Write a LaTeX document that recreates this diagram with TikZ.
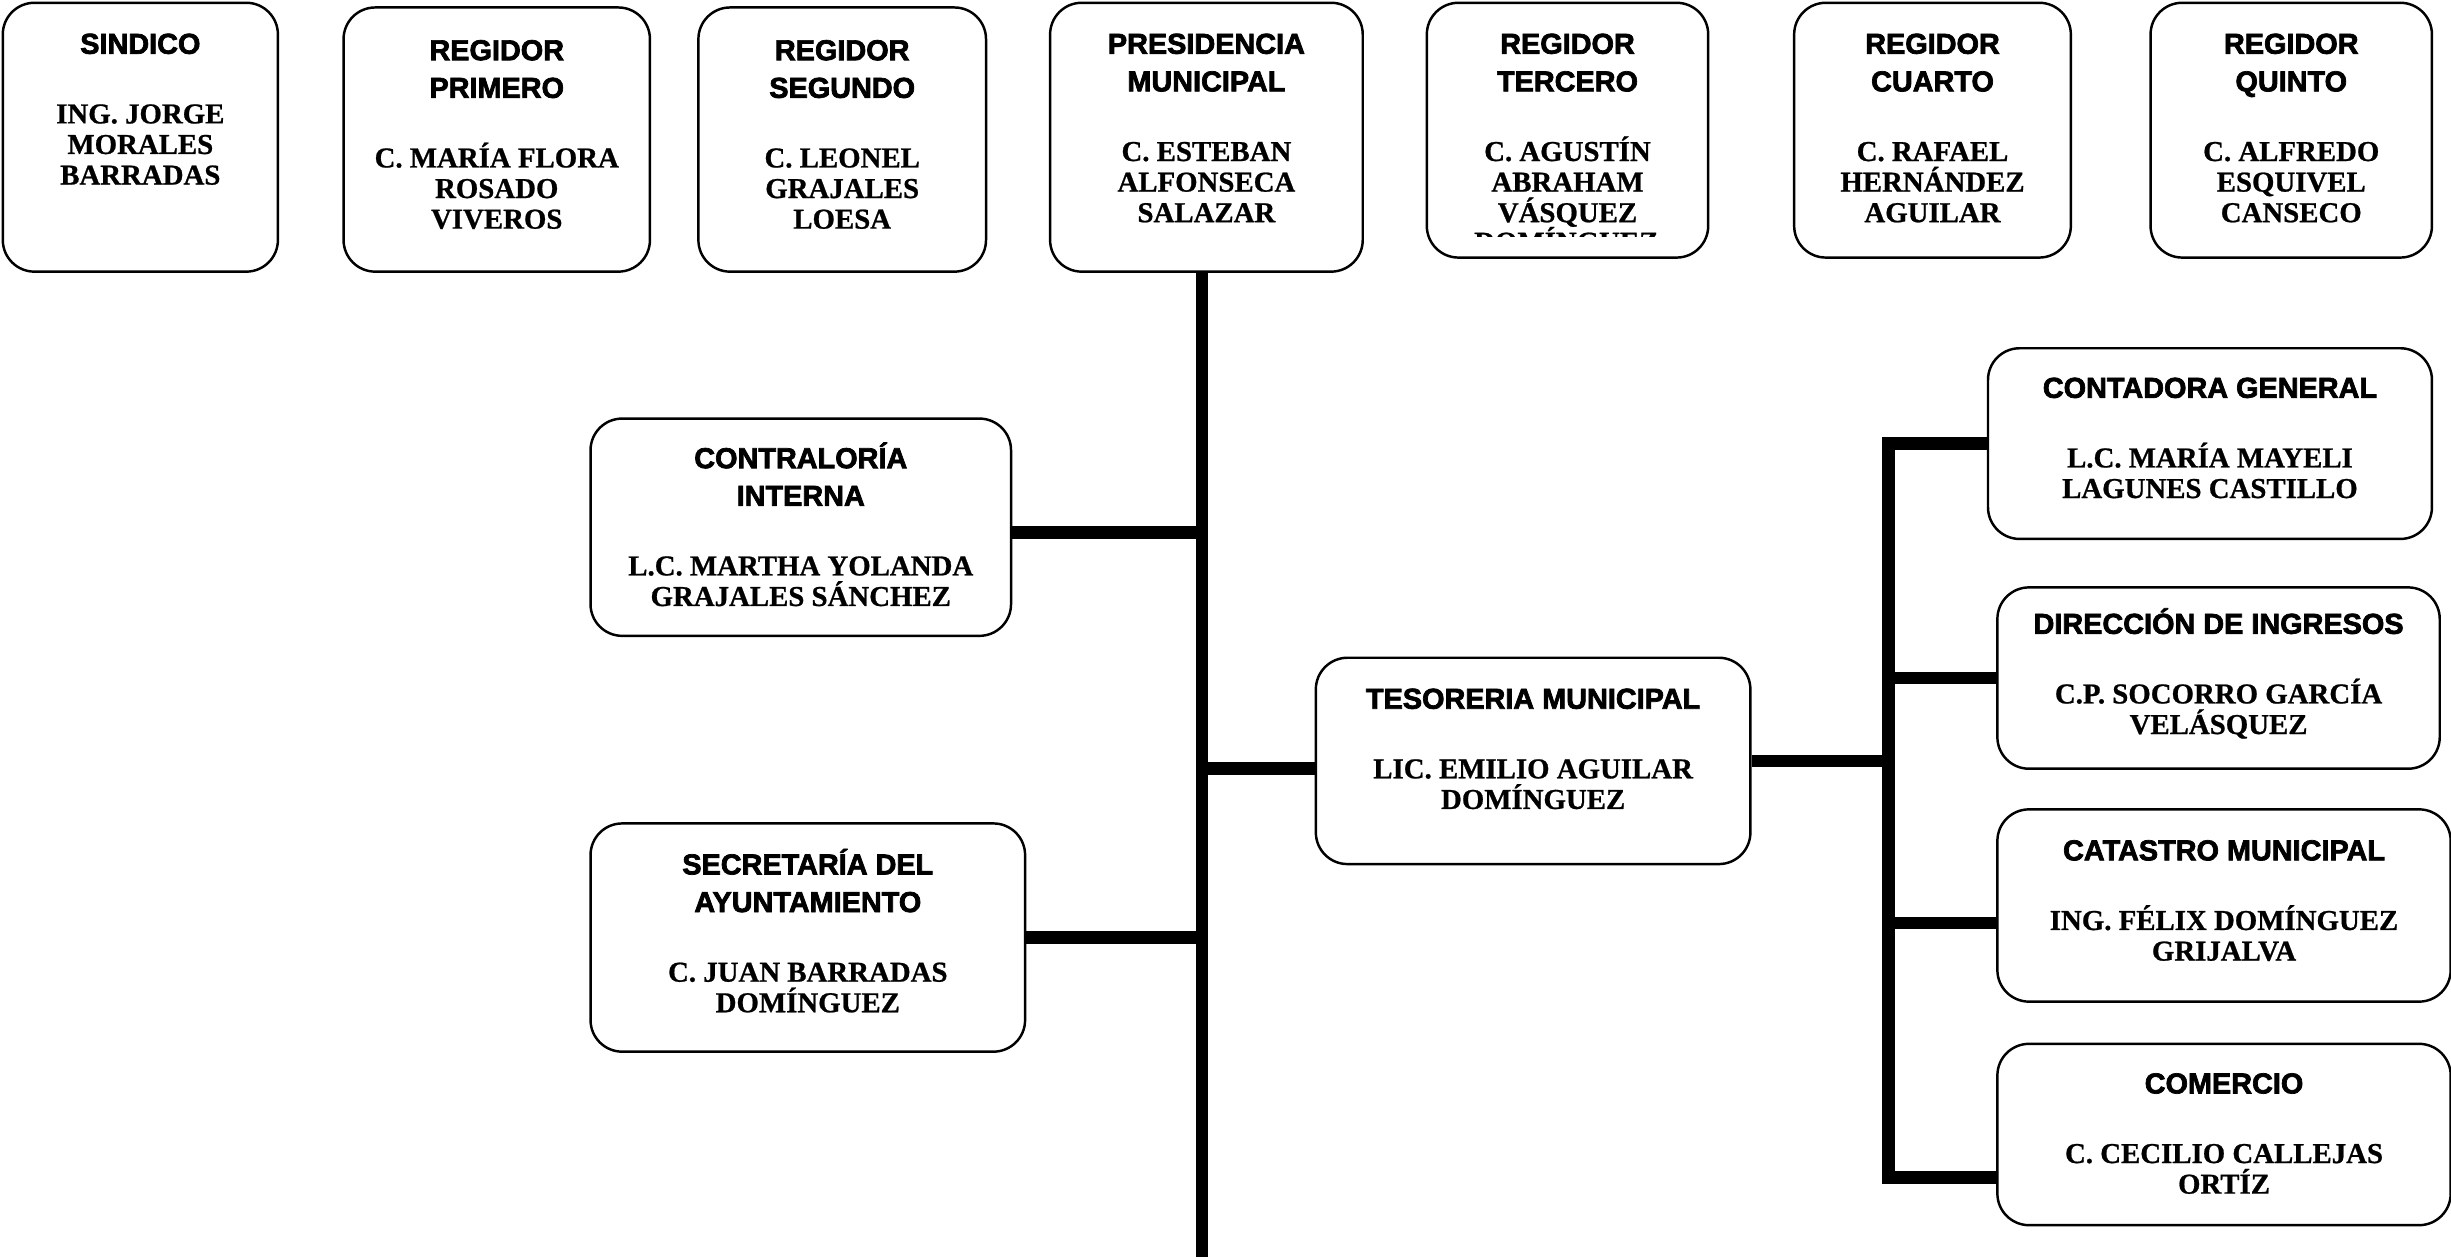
\documentclass[tikz,border=0pt]{standalone}
\usepackage{fontspec}
\setmainfont{Liberation Serif}[BoldFeatures={FakeBold=0.8}]
\setsansfont{Liberation Sans}[BoldFeatures={FakeBold=2.5}]

\newlength{\pxu}
\setlength{\pxu}{0.015632cm}
\newcommand{\titulofont}{\sffamily\bfseries\fontsize{8.2}{10.7}\selectfont}
\newcommand{\nombrefont}{\rmfamily\bfseries\fontsize{8.2}{8.7}\selectfont}
% ancho, alto, primera linea, cargo, nombre
\newcommand{\puesto}[5]{\parbox[c][#2\pxu][t]{#1\pxu}{\centering
  {\titulofont\rule{0pt}{#3}#4\par}\vspace{11.1pt}{\nombrefont #5\par}}}

\begin{document}
\begin{tikzpicture}[x=0.015632cm,y=-0.015632cm]
  \tikzstyle{cargo}=[draw,rounded corners=9pt,line width=0.7pt,inner sep=0pt,anchor=north west]
  \tikzstyle{linea}=[line width=3.6pt]
  \useasboundingbox (0,0) rectangle (1568,804);
  % cabildo
  \node[cargo] (sind) at (1,1) {\puesto{176}{172}{14.5pt}{SINDICO}{ING. JORGE\\MORALES\\BARRADAS}};
  \node[cargo] (reg1) at (219,4) {\puesto{196}{169}{15pt}{REGIDOR\\PRIMERO}{C. MARÍA FLORA\\ROSADO\\VIVEROS}};
  \node[cargo] (reg2) at (446,4) {\puesto{184}{169}{15pt}{REGIDOR\\SEGUNDO}{C. LEONEL\\GRAJALES\\LOESA}};
  \node[cargo] (pres) at (671,1) {\puesto{200}{172}{14.5pt}{PRESIDENCIA\\MUNICIPAL}{C. ESTEBAN\\ALFONSECA\\SALAZAR}};
  \node[cargo] (reg3) at (912,1) {\puesto{180}{163}{14.5pt}{REGIDOR\\TERCERO}{C. AGUSTÍN\\ABRAHAM\\VÁSQUEZ}};
  \node[cargo] (reg4) at (1147,1) {\puesto{177}{163}{14.5pt}{REGIDOR\\CUARTO}{C. RAFAEL\\HERNÁNDEZ\\AGUILAR}};
  \node[cargo] (reg5) at (1375,1) {\puesto{180}{163}{14.5pt}{REGIDOR\\QUINTO}{C. ALFREDO\\ESQUIVEL\\CANSECO}};
  \begin{scope}
    \clip (912,140) rectangle (1092,151.5);
    \node[anchor=base,font=\nombrefont] (reg3b) at (1002,161) {DOMÍNGUEZ};
  \end{scope}
  % dependencias
  \node[cargo] (contra) at (377,267) {\puesto{269}{139}{14.1pt}{CONTRALORÍA\\INTERNA}{L.C. MARTHA YOLANDA\\GRAJALES SÁNCHEZ}};
  \node[cargo] (secre) at (377,526) {\puesto{278}{146}{14.5pt}{SECRETARÍA DEL\\AYUNTAMIENTO}{C. JUAN BARRADAS\\DOMÍNGUEZ}};
  \node[cargo] (teso) at (841,420) {\puesto{278}{132}{14.5pt}{TESORERIA MUNICIPAL}{LIC. EMILIO AGUILAR\\DOMÍNGUEZ}};
  \node[cargo] (conta) at (1271,222) {\puesto{284}{122}{14.1pt}{CONTADORA GENERAL}{L.C. MARÍA MAYELI\\LAGUNES CASTILLO}};
  \node[cargo] (ingre) at (1277,375) {\puesto{283}{116}{13.2pt}{DIRECCIÓN DE INGRESOS}{C.P. SOCORRO GARCÍA\\VELÁSQUEZ}};
  \node[cargo] (catas) at (1277,517) {\puesto{290}{123}{14.5pt}{CATASTRO MUNICIPAL}{ING. FÉLIX DOMÍNGUEZ\\GRIJALVA}};
  \node[cargo] (comer) at (1277,667) {\puesto{290}{116}{14.1pt}{COMERCIO}{C. CECILIO CALLEJAS\\ORTÍZ}};
  % lineas
  \coordinate (fin) at (769,806);
  \coordinate (bus) at (1208,0);
  \draw[linea] (pres.south -| fin) -- (fin);
  \draw[linea] ([yshift=-1.5pt]contra.east) -- ([yshift=-1.5pt]contra.east -| fin);
  \draw[linea] (secre.east) -- (secre.east -| fin);
  \draw[linea] ([yshift=-2.2pt]teso.west) -- ([yshift=-2.2pt]teso.west -| fin);
  \draw[linea] (teso.east) -- (teso.east -| bus);
  \draw[linea] (conta.west) -| ([yshift=-12.2pt]comer.west -| bus) -- ([yshift=-12.2pt]comer.west);
  \draw[linea] (ingre.west -| bus) -- (ingre.west);
  \draw[linea] ([yshift=-5pt]catas.west -| bus) -- ([yshift=-5pt]catas.west);
\end{tikzpicture}
\end{document}
